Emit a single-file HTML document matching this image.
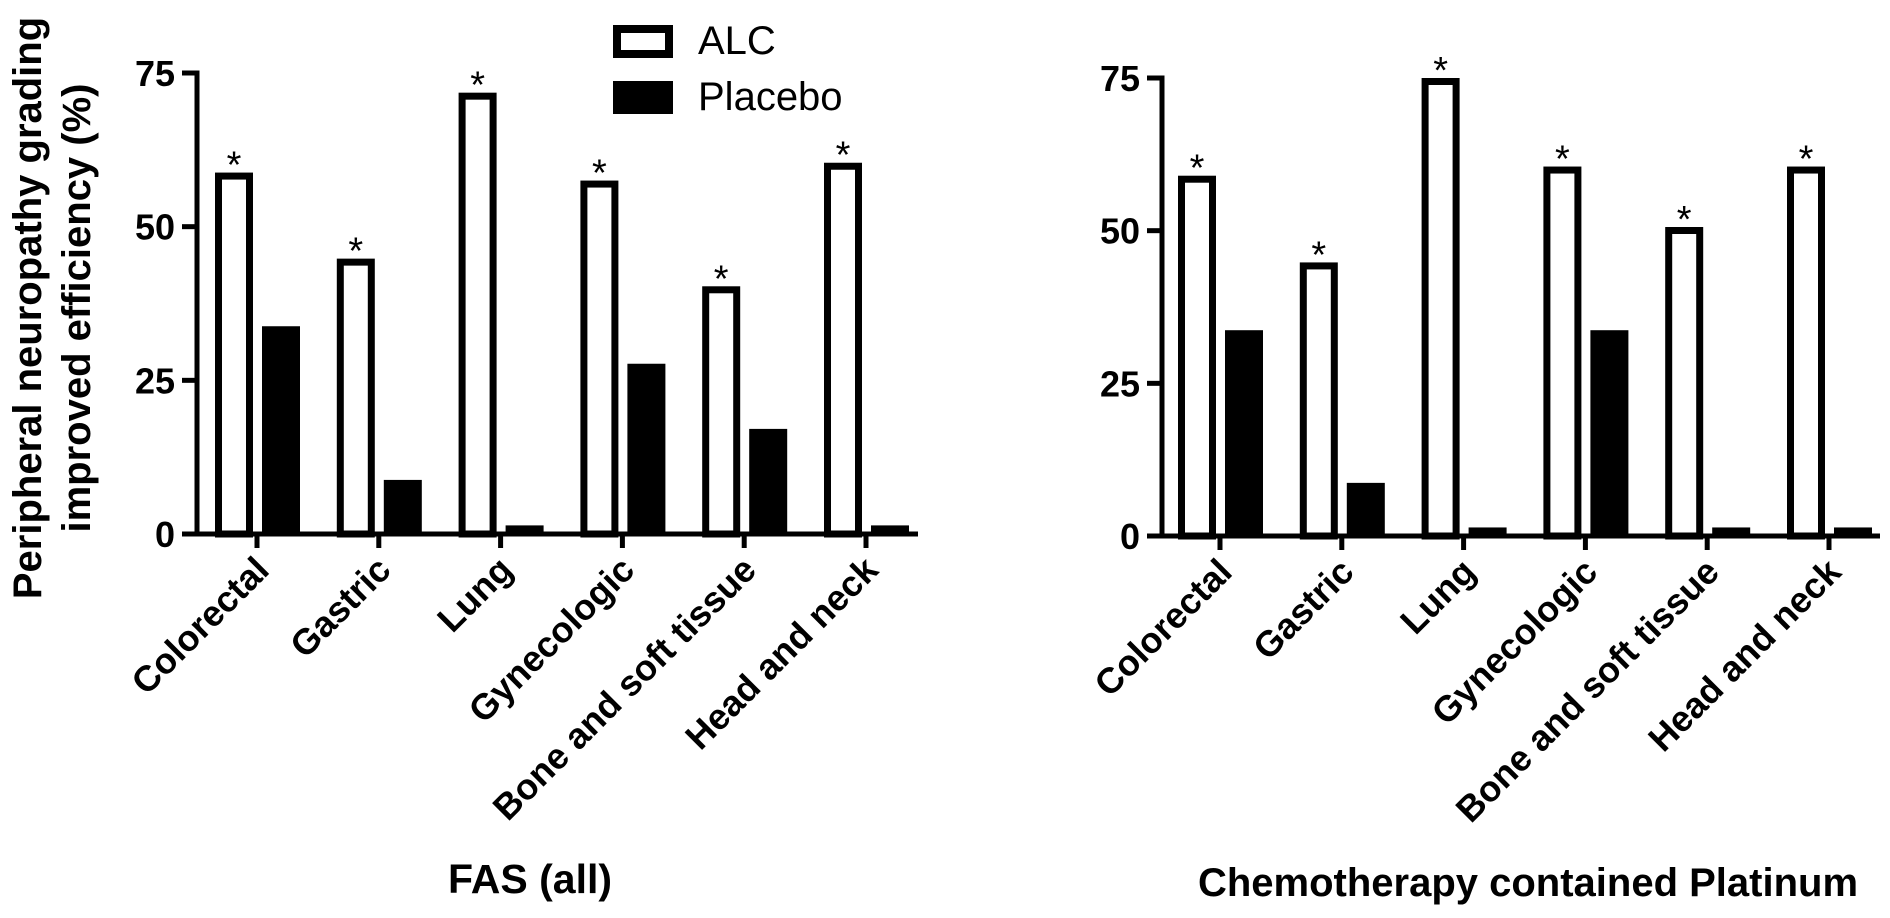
<!DOCTYPE html>
<html><head><meta charset="utf-8"><style>
html,body{margin:0;padding:0;background:#fff;}
svg{display:block;font-family:"Liberation Sans",Arial,sans-serif;}
</style></head><body>
<svg id="chart" width="1890" height="918" viewBox="0 0 1890 918">
<g id="legend">
 <rect x="617" y="29" width="52" height="25" fill="#fff" stroke="#000" stroke-width="8"/>
 <text x="698" y="54" font-size="40">ALC</text>
 <rect x="613" y="81" width="60" height="33" fill="#000"/>
 <text x="698" y="110" font-size="40">Placebo</text>
</g>
<g font-size="40" font-weight="bold" text-anchor="middle">
 <text transform="translate(41,308) rotate(-90)">Peripheral neuropathy grading</text>
 <text transform="translate(90,308) rotate(-90)">improved efficiency (%)</text>
</g>
<text x="530" y="893" font-size="41" font-weight="bold" text-anchor="middle">FAS (all)</text>
<text x="1528" y="896" font-size="40" font-weight="bold" text-anchor="middle">Chemotherapy contained Platinum</text>
</svg>
<script>
const categories = ["Colorectal","Gastric","Lung","Gynecologic","Bone and soft tissue","Head and neck"];
const fasAlc = [58.8, 44.8, 71.8, 57.5, 40.3, 60.4];
const fasPlacebo = [33.8, 8.8, 1.4, 27.7, 17.1, 1.4];
const platAlc = [59.0, 44.8, 75.0, 60.5, 50.6, 60.5];
const platPlacebo = [33.7, 8.7, 1.4, 33.7, 1.4, 1.4];
const yTicks = [0, 25, 50, 75];
const sigFas = [true,true,true,true,true,true];
const sigPlat = [true,true,true,true,true,true];

const NS = "http://www.w3.org/2000/svg";
const svg = document.getElementById('chart');
function mk(tag, attrs, parent){
  const e = document.createElementNS(NS, tag);
  for (const k in attrs) e.setAttribute(k, attrs[k]);
  (parent||svg).appendChild(e);
  return e;
}
function panel(cfg, alc, plc, sig, key){
  const g = mk('g', {});
  
  
  const y = v => cfg.y0 - v / 75 * cfg.h;
  const xt = i => cfg.t0 + i * cfg.step;
  alc.forEach((v, i) => {
    const top = y(v);
    const r = mk('rect', {x: xt(i) - 42 + 3.5, y: top + 3.5, width: 38 - 7, height: Math.max(0, cfg.y0 - top - 3.5), fill: '#fff', stroke: '#000', 'stroke-width': 7}, g);
    
    
    if (sig[i]) {
      const s = mk('text', {x: xt(i) - 23, y: top + 5, 'font-size': 38, 'text-anchor': 'middle'}, g);
      s.textContent = '*';
      
      
    }
  });
  plc.forEach((v, i) => {
    const top = y(v);
    const r = mk('rect', {x: xt(i) + 5, y: top, width: 38, height: cfg.y0 - top, fill: '#000'}, g);
    
    
  });
  const ya = mk('line', {x1: cfg.ax, y1: y(75) - 2.5, x2: cfg.ax, y2: cfg.y0 + 2.5, stroke: '#000', 'stroke-width': 5}, g);
  
  
  const xa = mk('line', {x1: cfg.ax - 2.5, y1: cfg.y0, x2: cfg.xend, y2: cfg.y0, stroke: '#000', 'stroke-width': 5}, g);
  
  
  yTicks.forEach(t => {
    const l = mk('line', {x1: cfg.ax - 15, y1: y(t), x2: cfg.ax, y2: y(t), stroke: '#000', 'stroke-width': 5}, g);
    
    
    const tx = mk('text', {x: cfg.ax - 22, y: y(t) + 13, 'font-size': 36, 'font-weight': 'bold', 'text-anchor': 'end'}, g);
    tx.textContent = t;
    
    
  });
  categories.forEach((c, i) => {
    const l = mk('line', {x1: xt(i), y1: cfg.y0, x2: xt(i), y2: cfg.y0 + 14, stroke: '#000', 'stroke-width': 5}, g);
    
    
    const tx = mk('text', {transform: 'translate(' + (xt(i) + 14) + ',' + (cfg.y0 + 38) + ') rotate(-45)', 'font-size': 36, 'font-weight': 'bold', 'text-anchor': 'end'}, g);
    tx.textContent = c;
    
    
  });
}
panel({ax: 197, y0: 534, h: 461, t0: 257, step: 121.8, xend: 918}, fasAlc, fasPlacebo, sigFas, 'fas');
panel({ax: 1162, y0: 536, h: 458, t0: 1220, step: 121.8, xend: 1880}, platAlc, platPlacebo, sigPlat, 'platinum');
</script>
</body></html>
